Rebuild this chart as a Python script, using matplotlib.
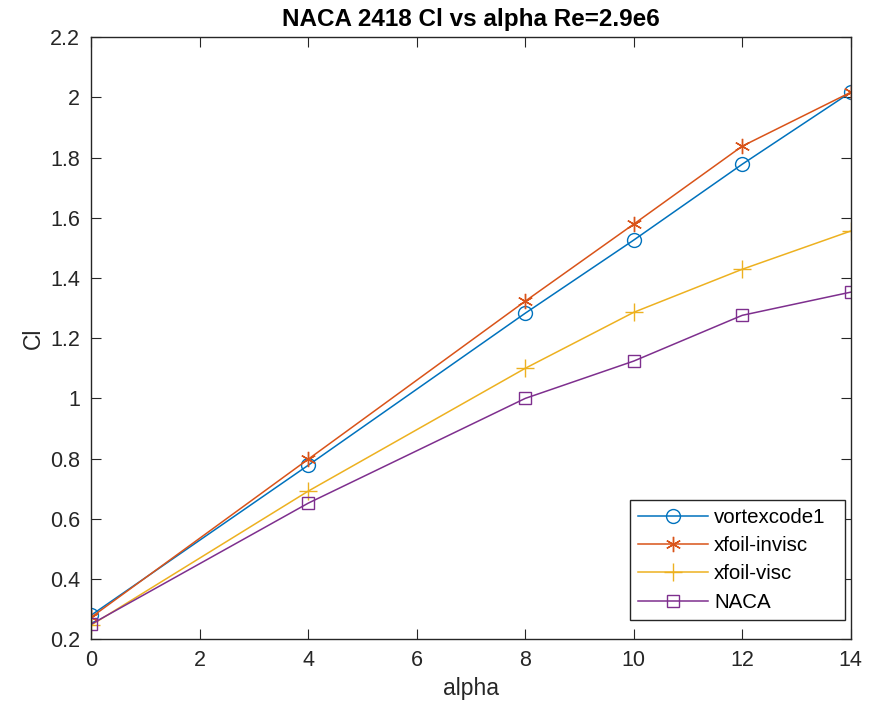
import matplotlib.pyplot as plt
import numpy as np

plt.rcParams['font.family'] = ['Liberation Sans', 'DejaVu Sans']

alpha = [0, 4, 8, 10, 12, 14]
cl_vortex = [0.28, 0.778, 1.283, 1.526, 1.778, 2.017]
cl_invisc = [0.273, 0.798, 1.323, 1.579, 1.838, 2.017]
cl_visc = [0.247, 0.692, 1.10, 1.286, 1.429, 1.556]
cl_naca = [0.25, 0.652, 1.0, 1.124, 1.276, 1.353]

fig = plt.figure(figsize=(8.69, 7.15), dpi=100)
ax = fig.add_axes([0.105, 0.106, 0.874, 0.842])

ax.plot(alpha, cl_vortex, color='#0072BD', marker='o', ms=10, mfc='none', lw=1.1, label='vortexcode1')
ax.plot(alpha, cl_invisc, color='#D95319', marker=(6, 2, 0), ms=11, lw=1.1, label='xfoil-invisc')
ax.plot(alpha, cl_visc, color='#EDB120', marker='+', ms=13, lw=1.1, label='xfoil-visc')
ax.plot(alpha, cl_naca, color='#7E2F8E', marker='s', ms=9, mfc='none', lw=1.1, label='NACA')

ax.set_xlim(0, 14)
ax.set_ylim(0.2, 2.2)
ax.set_xticks(np.arange(0, 15, 2))
ax.set_yticks(np.arange(0.2, 2.21, 0.2))
ax.set_yticklabels(['0.2', '0.4', '0.6', '0.8', '1', '1.2', '1.4', '1.6', '1.8', '2', '2.2'])
ax.tick_params(direction='in', top=True, right=True, length=7, labelsize=15.5,
               colors='#262626', pad=8)
for s in ax.spines.values():
    s.set_color('#262626')
    s.set_linewidth(1.0)

ax.set_xlabel('alpha', fontsize=16.5, color='#262626')
ax.set_ylabel('Cl', fontsize=16.5, color='#262626')
ax.set_title('NACA 2418 Cl vs alpha Re=2.9e6', fontsize=17.5, fontweight='bold', pad=8)

leg = ax.legend(loc='lower left', bbox_to_anchor=(0.709, 0.032, 0.283, 0.2), mode='expand',
                borderaxespad=0, fontsize=14.8, fancybox=False, framealpha=1,
                edgecolor='#262626', handlelength=3.4, handletextpad=0.3,
                labelspacing=0.45, borderpad=0.4)
leg.get_frame().set_linewidth(1.0)

fig.savefig('out.png', dpi=100)
